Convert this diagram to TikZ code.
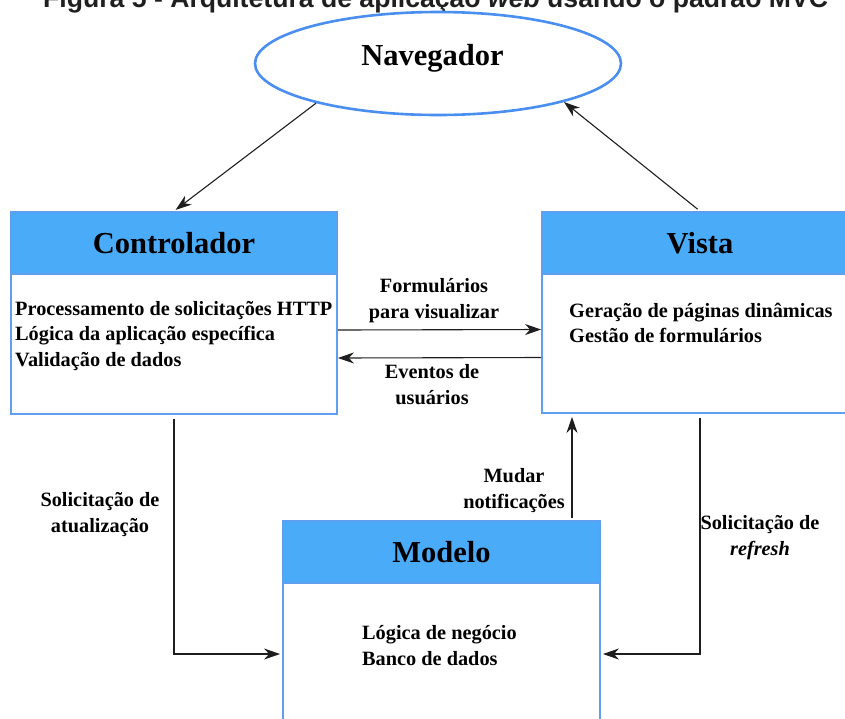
\documentclass[tikz,border=0pt]{standalone}
\usepackage{fontspec}
\setmainfont{Liberation Serif}
\newfontfamily\titlefont{Liberation Sans}
\usetikzlibrary{arrows.meta,shapes.geometric}

\definecolor{headblue}{RGB}{74,172,249}
\definecolor{lineblue}{RGB}{96,158,240}
\definecolor{ovalblue}{RGB}{74,143,240}
\definecolor{arrowgray}{RGB}{30,30,30}

\newcommand{\txtfont}{\fontsize{20.3}{25.5}\selectfont\bfseries}
\newcommand{\headfont}{\fontsize{30.5}{36}\selectfont\bfseries}

\begin{document}
\begin{tikzpicture}[x=1pt, y=-1pt,
		frame/.style={draw=lineblue, line width=1.8pt, inner sep=0pt},
		head/.style={frame, fill=headblue, minimum height=62pt, font=\headfont},
		txt/.style={font=\txtfont, align=left, anchor=west, inner sep=0pt},
		lbl/.style={font=\txtfont, align=center, inner sep=0pt},
		arr/.style={draw=arrowgray, line width=1.1pt, -{Stealth[length=16pt, width=11pt, inset=5pt]}}]
		\useasboundingbox (0,0) rectangle (845,718);
		
		%title
		\node[anchor=base west, inner sep=0pt, font={\titlefont\fontsize{26.6}{30}\selectfont\bfseries}, color=black!88] (title) at (43,7) {Figura 5 - Arquitetura de aplicação \textit{web} usando o padrão MVC};
		
		%browser
		\node[ellipse, draw=ovalblue, line width=2.6pt, minimum width=366pt, minimum height=103pt] (nav) at (438,63.5) {};
		\node[font=\headfont, inner sep=0pt] (navtext) at (432.5,58) {Navegador};
		
		%controller
		\node[frame, minimum width=326pt, minimum height=202pt] (ctrl) at (174,313) {};
		\node[head, minimum width=326pt] (ctrlhead) at (174,243) {Controlador};
		\node[txt] (ctrltext) at (15,336) {Processamento de solicitações HTTP\\Lógica da aplicação específica\\Validação de dados};
		
		%view
		\node[frame, minimum width=316pt, minimum height=201pt] (vista) at (700,312.5) {};
		\node[head, minimum width=316pt] (vistahead) at (700,243) {Vista};
		\node[txt] (vistatext) at (569,323) {Geração de páginas dinâmicas\\Gestão de formulários};
		
		%model
		\node[frame, minimum width=317pt, minimum height=266pt] (modelo) at (441.5,654) {};
		\node[head, minimum width=317pt] (modelohead) at (441.5,552) {Modelo};
		\node[txt] (modelotext) at (362,645.5) {Lógica de negócio\\Banco de dados};
		
		%arrows
		\draw[arr, shorten >=2pt] (nav.198) -- (ctrl.north);
		\draw[arr, shorten <=3pt] (vista.north) -- (nav.-17);
		\draw[arr] ([yshift=-17pt]ctrl.east) -- ([yshift=-17pt]vista.west);
		\draw[arr] ([yshift=-45pt]vista.west) -- ([yshift=-45pt]ctrl.east);
		\draw[arr, shorten <=4pt, shorten >=2pt] (ctrl.south) |- (modelo.west);
		\draw[arr, shorten <=4pt, shorten >=2pt] (vista.south) |- (modelo.east);
		\draw[arr, shorten <=2pt, shorten >=3pt] ([xshift=130.5pt]modelo.north) -- ([xshift=130.5pt]modelo.north |- vista.south);
		
		%labels
		\node[lbl] (formlbl) at (434,300.5) {Formulários\\para visualizar};
		\node[lbl] (evlbl) at (432,384.5) {Eventos de\\usuários};
		\node[lbl] (atlbl) at (100,514.5) {Solicitação de\\atualização};
		\node[lbl] (notiflbl) at (514,490.5) {Mudar\\notificações};
		\node[lbl] (reflbl) at (760,537.5) {Solicitação de\\\textit{refresh}};
\end{tikzpicture}
\end{document}
